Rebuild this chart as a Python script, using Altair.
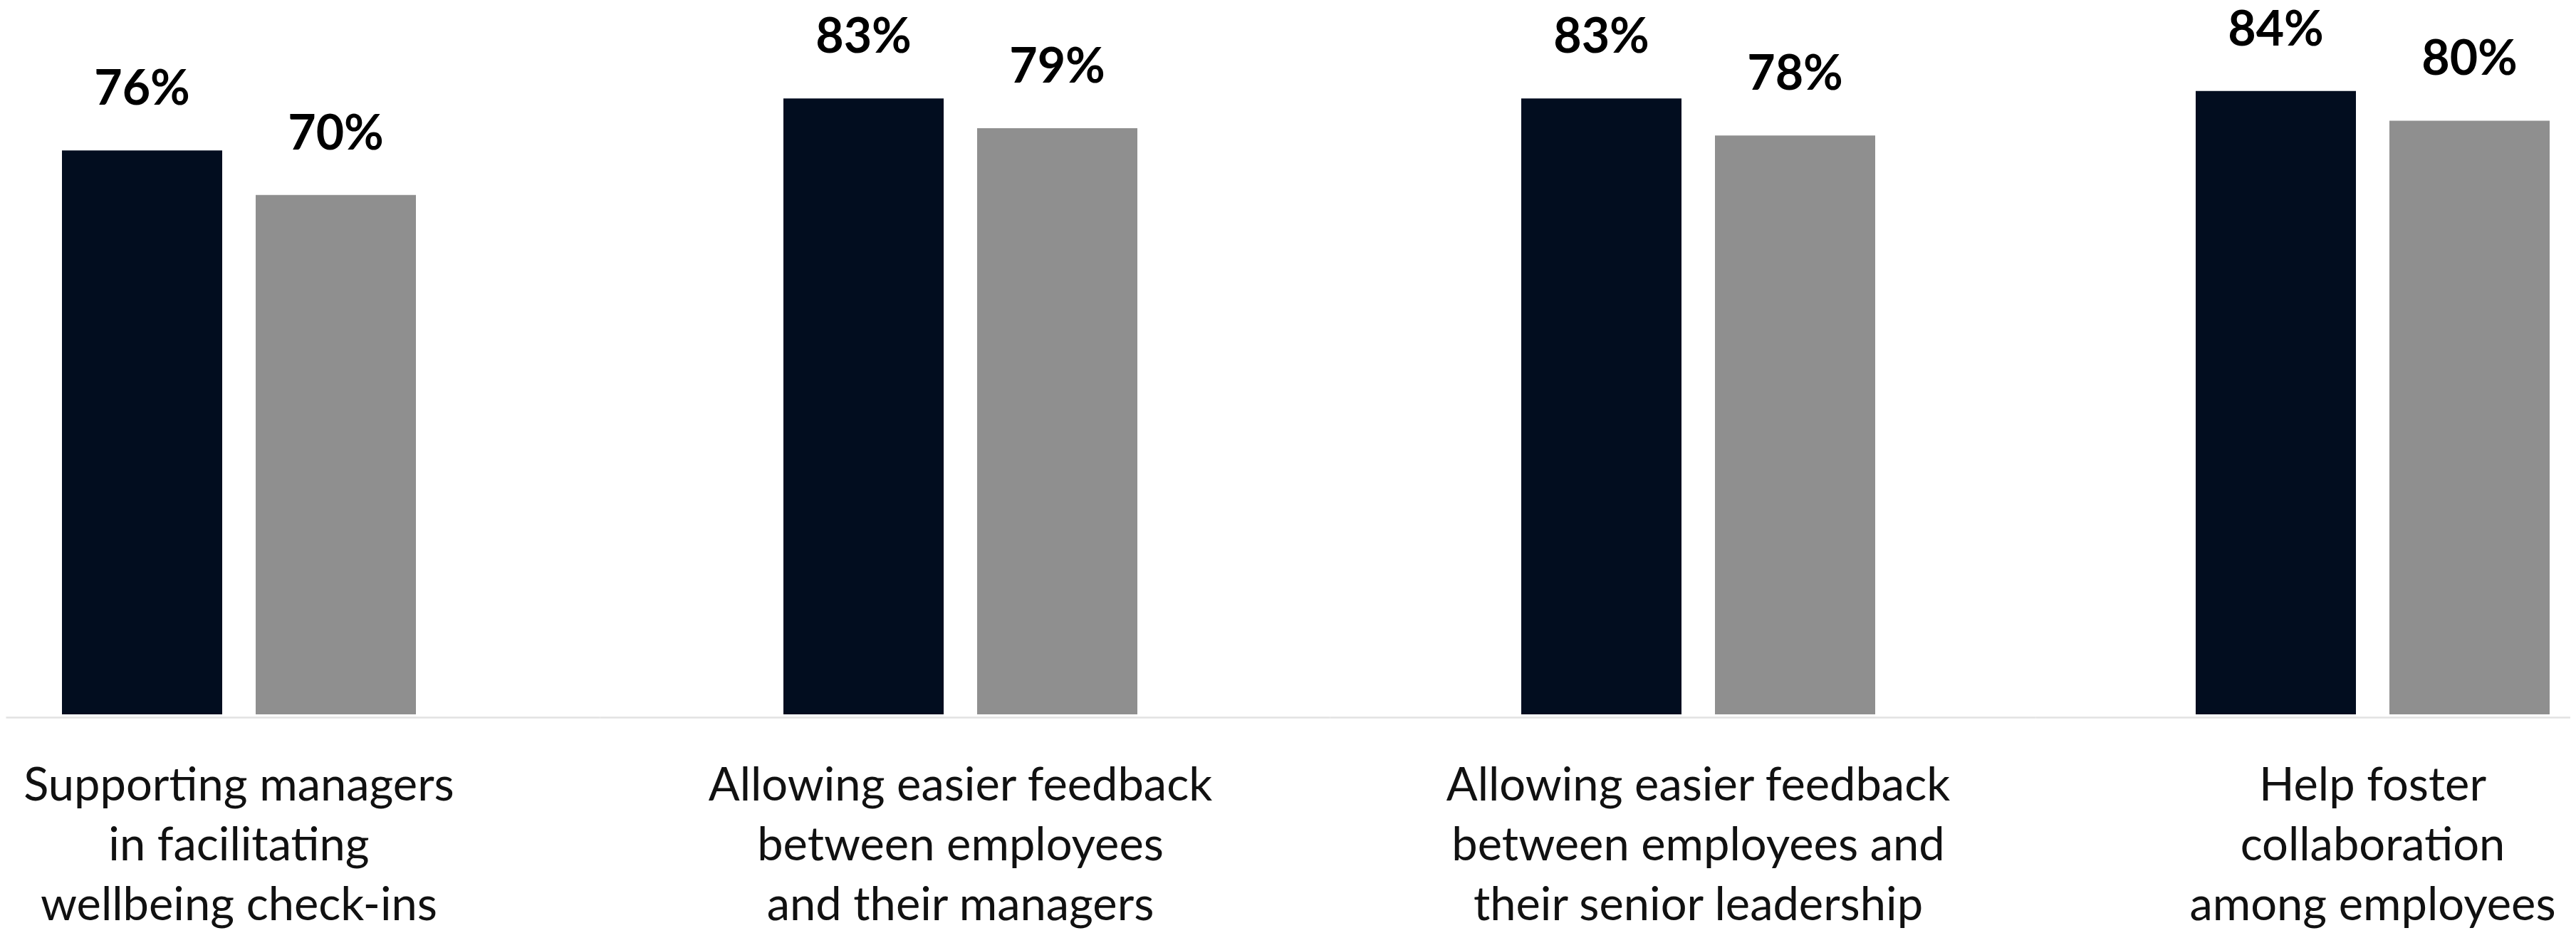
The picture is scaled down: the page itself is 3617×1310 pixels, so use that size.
import altair as alt
import pandas as pd

categories = [
    "Supporting managers\nin facilitating\nwellbeing check-ins",
    "Allowing easier feedback\nbetween employees\nand their managers",
    "Allowing easier feedback\nbetween employees and\ntheir senior leadership",
    "Help foster\ncollaboration\namong employees",
]
series = ["Series 1", "Series 2"]
values_series_1 = [76, 83, 83, 84]
values_series_2 = [70, 79, 78, 80]
colors = ["#020d1f", "#8f8f8f"]

rows = []
for i, (cat, v1, v2) in enumerate(zip(categories, values_series_1, values_series_2)):
    rows.append({"idx": i, "category": cat, "series": series[0], "value": v1})
    rows.append({"idx": i, "category": cat, "series": series[1], "value": v2})
df = pd.DataFrame(rows)

FONT = "Lato"
GROUP_W = 497                      # width of one group of two bars
panel_widths = [834, 1025, 991, 751]
group_left = [79, 258, 269, 225]   # offset of the group inside its panel


def panel(i):
    w = panel_widths[i]
    po = (w / GROUP_W - 1) / 2
    al = group_left[i] / (w - GROUP_W)
    x_enc = alt.X(
        "category:N",
        title=None,
        scale=alt.Scale(paddingInner=0, paddingOuter=po, align=al, round=False),
        axis=alt.Axis(
            labelAngle=0,
            labelExpr="split(datum.label, '\\n')",
            labelFont=FONT,
            labelFontSize=65,
            labelColor="#111111",
            labelLineHeight=84,
            labelLimit=0,
            labelPadding=65,
            ticks=False,
            domain=True,
            domainColor="#e2e2e2",
            domainWidth=2.5,
            offset=4,
            grid=False,
        ),
    )
    xoff_enc = alt.XOffset(
        "series:N",
        sort=series,
        scale=alt.Scale(paddingInner=0.1728, paddingOuter=0),
    )
    y_enc = alt.Y(
        "value:Q",
        scale=alt.Scale(domain=[0, 95.5], nice=False, zero=True),
        axis=None,
    )
    base = (
        alt.Chart(df)
        .transform_filter(alt.datum.idx == i)
        .encode(x=x_enc, xOffset=xoff_enc, y=y_enc)
    )
    bars = base.mark_bar().encode(
        color=alt.Color(
            "series:N",
            scale=alt.Scale(domain=series, range=colors),
            legend=None,
        )
    )
    labels = base.mark_text(
        dy=-64,
        baseline="alphabetic",
        align="center",
        font=FONT,
        fontSize=68,
        fontWeight="bold",
        color="#000000",
    ).encode(text=alt.Text("label:N")).transform_calculate(
        label="datum.value + '%'"
    )
    return alt.layer(bars, labels).properties(width=w, height=995)


chart = (
    alt.hconcat(*[panel(i) for i in range(len(categories))], spacing=0, bounds="flush")
    .properties(padding=0, background="white")
    .configure_view(stroke=None, strokeWidth=0)
)

chart.save("out.html", embed_options={"renderer": "svg", "actions": False})
